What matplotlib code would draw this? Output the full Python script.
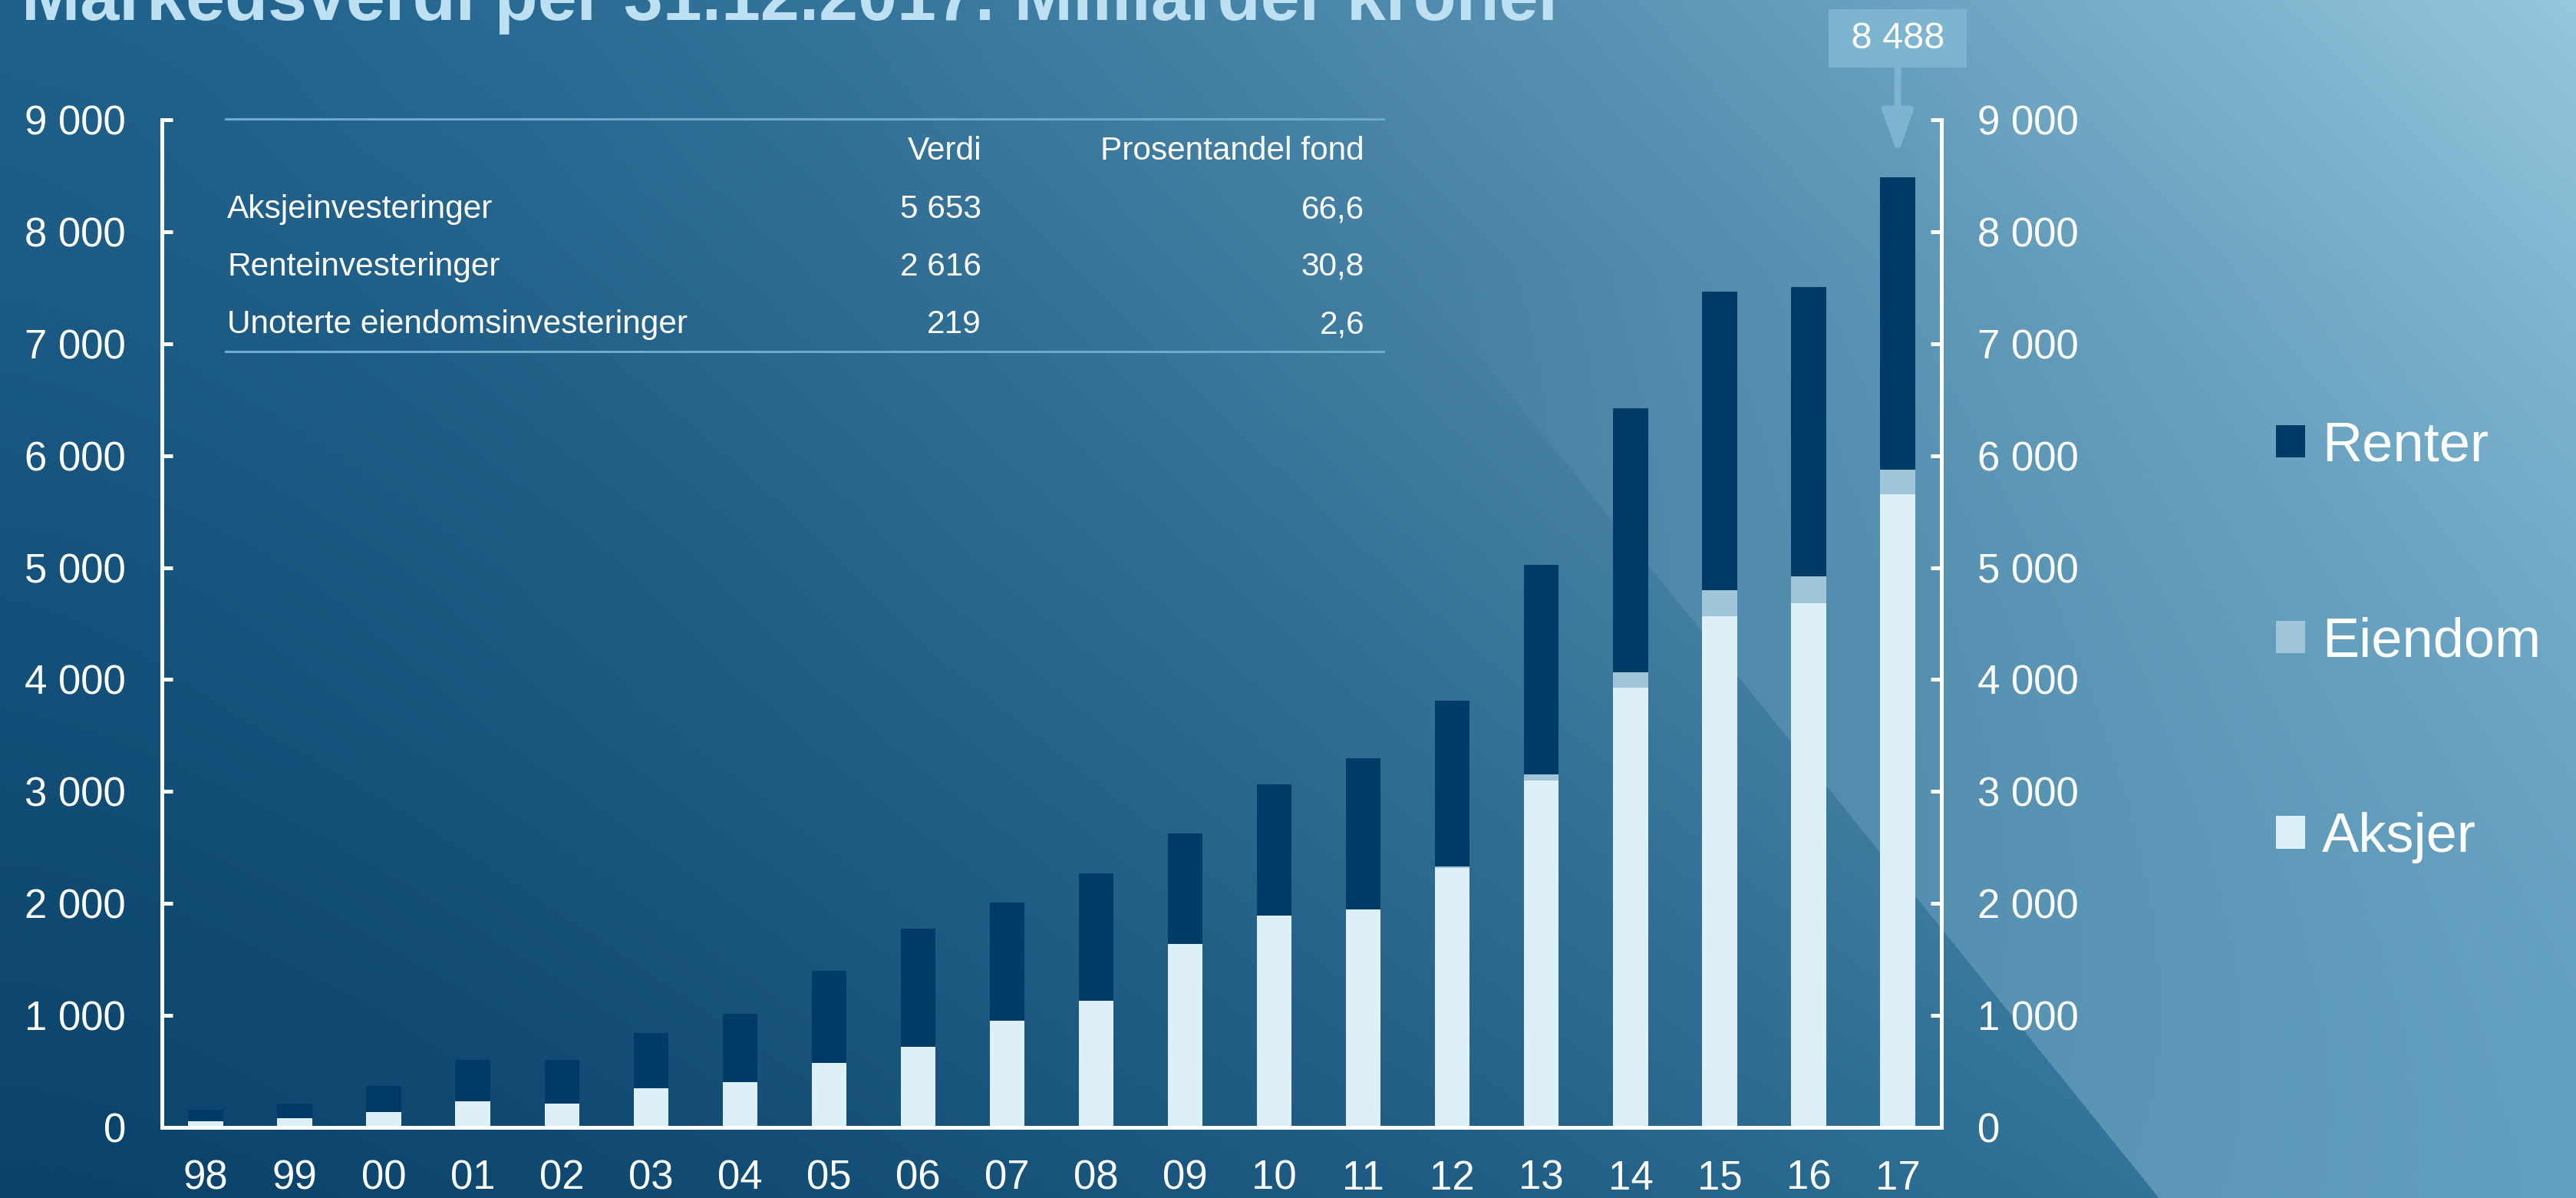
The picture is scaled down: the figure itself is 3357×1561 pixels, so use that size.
import numpy as np
import matplotlib
matplotlib.use('Agg')
import matplotlib.pyplot as plt
from matplotlib.lines import Line2D

plt.rcParams['font.family'] = ['Liberation Sans', 'DejaVu Sans']

# values, billions NOK
years = ['98', '99', '00', '01', '02', '03', '04', '05', '06', '07',
         '08', '09', '10', '11', '12', '13', '14', '15', '16', '17']
aksjer = [55, 80, 140, 235, 215, 350, 405, 575, 720, 955,
          1130, 1640, 1890, 1945, 2320, 3095, 3927, 4565, 4681, 5653]
eiendom = [0, 0, 0, 0, 0, 0, 0, 0, 0, 0,
           0, 0, 0, 5, 12, 55, 140, 235, 242, 219]
renter = [105, 132, 230, 365, 385, 490, 607, 820, 1055, 1055,
          1142, 985, 1175, 1350, 1480, 1874, 2355, 2664, 2582, 2616]

yticks = [0, 1000, 2000, 3000, 4000, 5000, 6000, 7000, 8000, 9000]
ytick_labels = ['0', '1 000', '2 000', '3 000', '4 000', '5 000',
                '6 000', '7 000', '8 000', '9 000']

table_rows = ['Aksjeinvesteringer', 'Renteinvesteringer', 'Unoterte eiendomsinvesteringer']
table_verdi = ['5 653', '2 616', '219']
table_andel = ['66,6', '30,8', '2,6']
total_label = '8 488'

title = 'Markedsverdi per 31.12.2017. Milliarder kroner'

W, H = 3357, 1561
fig = plt.figure(figsize=(W / 100, H / 100), dpi=100)

# background gradient with a lighter wedge at the lower right
yy, xx = np.mgrid[0:H, 0:W].astype(float)
u = (xx / W) ** 1.5
v = 1 - yy / H
BL = np.array([10, 66, 106]) / 255
TL = np.array([32, 98, 140]) / 255
BR = np.array([62, 130, 168]) / 255
TR = np.array([150, 200, 222]) / 255
bot = BL * (1 - u[..., None]) + BR * u[..., None]
top = TL * (1 - u[..., None]) + TR * u[..., None]
img = bot * (1 - v[..., None]) + top * v[..., None]
mask = xx > 2522 + 0.807 * (yy - 1200)
alpha = 0.42 * np.clip((yy - 350) / (H - 350), 0, 1) * mask
light = np.array([150, 200, 225]) / 255
img = img * (1 - alpha[..., None]) + light * alpha[..., None]
bg = fig.add_axes([0, 0, 1, 1], zorder=-10)
bg.imshow(img, aspect='auto', interpolation='bilinear')
bg.axis('off')

ax = fig.add_axes([211 / W, 1 - 1469 / H, (2530 - 211) / W, (1469 - 156) / H])
ax.patch.set_visible(False)

x = np.arange(len(years))
akt = np.array(aksjer)
eie = np.array(eiendom)
ax.bar(x, aksjer, width=0.39, color='#DDF0F7', label='Aksjer')
ax.bar(x, eiendom, width=0.39, bottom=akt, color='#A0C4D8', label='Eiendom')
ax.bar(x, renter, width=0.39, bottom=akt + eie, color='#003A66', label='Renter')

ax.set_xlim(-0.49, len(years) - 0.51)
ax.set_ylim(0, 9000)
ax.set_xticks(x)
ax.set_xticklabels(years)
ax.set_yticks(yticks)
ax.set_yticklabels(ytick_labels)

ax.spines['top'].set_visible(False)
for s in ['left', 'right', 'bottom']:
    ax.spines[s].set_color('white')
    ax.spines[s].set_linewidth(3.6)
ax.tick_params(axis='y', direction='in', length=10, width=3.6, colors='white',
               labelsize=38, pad=34, left=True, right=True,
               labelleft=True, labelright=True)
ax.tick_params(axis='x', length=0, labelsize=38, colors='white', pad=30)

# total for last year with arrow
total_last = aksjer[-1] + eiendom[-1] + renter[-1]
ax.annotate(' ' + total_label + ' ', xy=(x[-1], total_last), xytext=(0, 130),
            textcoords='offset points', ha='center', va='center',
            fontsize=35, color='white',
            bbox=dict(boxstyle='square,pad=0.32', fc='#7DB5D0', ec='none'),
            arrowprops=dict(arrowstyle='-|>,head_length=0.95,head_width=0.34',
                            color='#7DB5D0', lw=6.5, shrinkA=0, shrinkB=21),
            annotation_clip=False)

# small table
line_col = '#6EAAD0'
fig.add_artist(Line2D([294 / W, 1803 / W], [1 - 155 / H] * 2, color=line_col, lw=2.2))
fig.add_artist(Line2D([294 / W, 1803 / W], [1 - 458 / H] * 2, color=line_col, lw=2.2))
fig.text(1279 / W, 1 - 197 / H, 'Verdi', fontsize=30.5, color='white', ha='right', va='center')
fig.text(1778 / W, 1 - 197 / H, 'Prosentandel fond', fontsize=30.5, color='white', ha='right', va='center')
for i, row in enumerate(table_rows):
    yr = 1 - (273 + 75 * i) / H
    fig.text(296 / W, yr, row, fontsize=30.5, color='white', ha='left', va='center')
    fig.text(1279 / W, yr, table_verdi[i], fontsize=30.5, color='white', ha='right', va='center')
    fig.text(1778 / W, yr, table_andel[i], fontsize=30.5, color='white', ha='right', va='center')

handles, labels = ax.get_legend_handles_labels()
fig.legend(handles[::-1], labels[::-1], loc='center left',
           bbox_to_anchor=(2966 / W, 1 - 837 / H), frameon=False, fontsize=52,
           labelcolor='white', handlelength=0.53, handleheight=0.53,
           handletextpad=0.3, labelspacing=2.6, borderpad=0, borderaxespad=0)

fig.text(28 / W, 1 - 26 / H, title, fontsize=66, fontweight='bold',
         color='#BDE0F2', ha='left', va='baseline')

fig.savefig('out.png', dpi=100)
